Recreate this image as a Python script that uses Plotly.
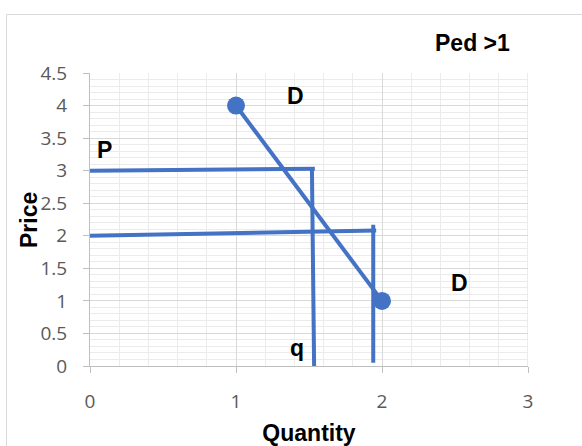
import plotly.graph_objects as go

# Demand curve endpoints
demand_q = [1, 2]
demand_p = [4, 1]

# Price P1 = 3 lines (horizontal then vertical to q)
p3_h_q = [0, 1.54]
p3_h_p = [3.0, 3.03]
p3_v_q = [1.52, 1.535]
p3_v_p = [3.05, 0]

# Price P2 = 2 lines
p2_h_q = [0, 1.96]
p2_h_p = [2.0, 2.08]
p2_v_q = [1.94, 1.94]
p2_v_p = [2.17, 0.05]

x_ticks = [0, 1, 2, 3]
y_ticks = [0, 0.5, 1, 1.5, 2, 2.5, 3, 3.5, 4, 4.5]

labels_text = ["D", "P", "q", "D"]
labels_x = [1.41, 0.096, 1.42, 2.53]
labels_y = [4.15, 3.32, 0.27, 1.27]
title_text = "Ped >1"

BLUE = "#4472C4"

fig = go.Figure()
line_style = dict(color=BLUE, width=4)
for qx, py in [(p3_h_q, p3_h_p), (p3_v_q, p3_v_p), (p2_h_q, p2_h_p), (p2_v_q, p2_v_p)]:
    fig.add_trace(go.Scatter(x=qx, y=py, mode="lines", line=line_style,
                             showlegend=False, hoverinfo="skip", cliponaxis=False))
fig.add_trace(go.Scatter(x=demand_q, y=demand_p, mode="lines+markers",
                         line=line_style, marker=dict(color=BLUE, size=18),
                         showlegend=False, cliponaxis=False))

labfont = dict(family="Liberation Sans", size=23, color="#000000")
for t, x, y in zip(labels_text, labels_x, labels_y):
    fig.add_annotation(x=x, y=y, text=f"<b>{t}</b>", showarrow=False, font=labfont,
                       xanchor="center", yanchor="middle")
fig.add_annotation(xref="paper", yref="paper", x=(472 - 90) / 438, y=(366 - 43) / 293,
                   xanchor="center", yanchor="middle",
                   text=f"<b>{title_text}</b>", showarrow=False, font=labfont)
# y axis title as rotated annotation
fig.add_annotation(xref="paper", yref="paper", x=(29 - 90) / 438, y=(366 - 220) / 293,
                   xanchor="center", yanchor="middle", textangle=-90,
                   text="<b>Price</b>", showarrow=False, font=labfont)

# chart border
fig.add_shape(type="rect", xref="paper", yref="paper",
              x0=(6.5 - 90) / 438, x1=(620 - 90) / 438,
              y0=(366 - 470) / 293, y1=(366 - 14.5) / 293,
              line=dict(color="#d9d9d9", width=1), fillcolor="rgba(0,0,0,0)", layer="below")

tickfont = dict(family="Open Sans", size=19, color="#595959")
fig.update_layout(
    width=582, height=446,
    margin=dict(l=90, r=54, t=73, b=80, autoexpand=False),
    paper_bgcolor="white", plot_bgcolor="white",
    showlegend=False,
    xaxis=dict(range=[0, 3], tickvals=x_ticks, ticktext=[str(v) for v in x_ticks],
               automargin=False,
               showgrid=True, gridcolor="#d9d9d9", gridwidth=1,
               minor=dict(dtick=0.2, showgrid=True, gridcolor="#ebebeb", gridwidth=1),
               showline=True, linecolor="#bfbfbf", linewidth=1,
               ticks="outside", ticklen=6, tickcolor="#bfbfbf",
               ticklabelstandoff=12, zeroline=False, tickfont=tickfont,
               title=dict(text="<b>Quantity</b>", standoff=15, font=labfont)),
    yaxis=dict(range=[0, 4.5], tickvals=y_ticks, ticktext=[f"{v:g}" for v in y_ticks],
               automargin=False,
               showgrid=True, gridcolor="#d9d9d9", gridwidth=1,
               minor=dict(dtick=0.1, showgrid=True, gridcolor="#ebebeb", gridwidth=1),
               showline=True, linecolor="#bfbfbf", linewidth=1,
               ticks="outside", ticklen=6, tickcolor="#bfbfbf",
               ticklabelstandoff=12, zeroline=False, tickfont=tickfont),
)
# vertical line at x=3 (right edge)
fig.add_shape(type="line", xref="x", yref="y", x0=3, x1=3, y0=0, y1=4.5,
              line=dict(color="#d9d9d9", width=1), layer="below")
fig.write_html("out.html")
